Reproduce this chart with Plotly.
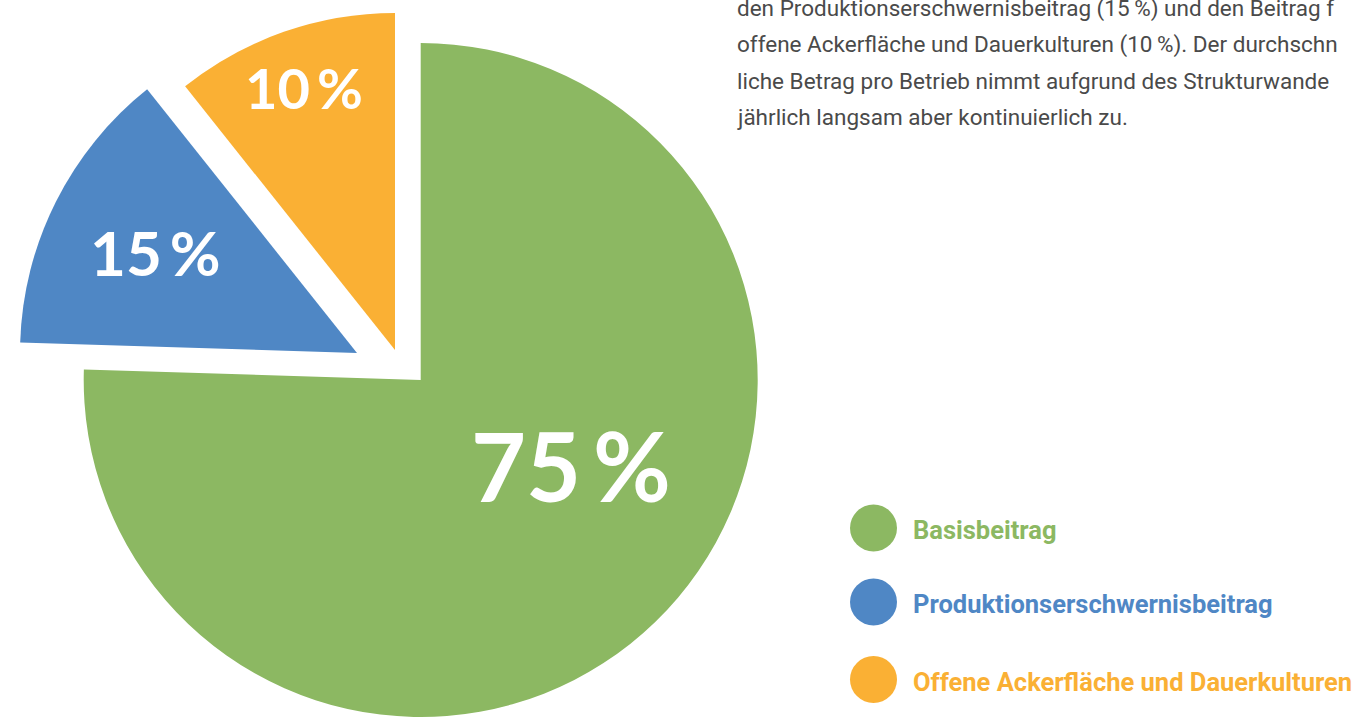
import plotly.graph_objects as go

categories = ["Basisbeitrag", "Produktionserschwernisbeitrag", "Offene Ackerfläche und Dauerkulturen"]
shares = [75.5, 13.8, 10.7]
share_labels = ["75\u2009%", "15\u2009%", "10\u2009%"]
colors = ["#8CB862", "#4F87C5", "#FAB034"]

# sichtbarer Teil des Fließtexts (rechts abgeschnitten wie im Original)
text_lines = [
    "den Produktionserschwernisbeitrag (15\u2009%) und den Beitrag f",
    "offene Ackerfläche und Dauerkulturen (10\u2009%). Der durchschn",
    "liche Betrag pro Betrieb nimmt aufgrund des Strukturwande",
    "jährlich langsam aber kontinuierlich zu.",
]

W, H = 1365, 717
R = 337                      # Kreisradius in Pixel
# Mittelpunkte der (herausgezogenen) Segmente in Pixel
centers = [(420.7, 380), (357, 353), (395, 350)]
# Lage und Größe der Prozent-Labels
label_pos = [(570.5, 464.5), (154.5, 252), (304, 88)]
label_sizes = [95, 62, 56]

_TRANSPARENT = "rgba(0,0,0,0)"
_LABEL_FONT = "Lato, 'Open Sans', sans-serif"
_TEXT_FONT = "Roboto, 'Liberation Sans', sans-serif"


def _domain(cx, cy):
    return dict(
        x=[(cx - R) / W, (cx + R) / W],
        y=[max(0.0, 1 - (cy + R) / H), min(1.0, 1 - (cy - R) / H)],
    )


fig = go.Figure()

# Ein Pie pro Segment – nur das jeweilige Segment ist sichtbar, so lässt sich
# jedes Stück frei verschieben (wie in der Vorlage)
for i, (cx, cy) in enumerate(centers):
    seg_colors = [c if j == i else _TRANSPARENT for j, c in enumerate(colors)]
    fig.add_trace(go.Pie(
        labels=categories,
        values=shares,
        sort=False,
        direction="clockwise",
        rotation=0,
        domain=_domain(cx, cy),
        marker=dict(colors=seg_colors, line=dict(width=0)),
        textinfo="none",
        hoverinfo="skip",
        showlegend=False,
    ))

# Legende: Kreise + farbiger Text
leg_x = 873.5 / W
leg_y = [1 - 528 / H, 1 - 602 / H, 1 - 679.5 / H]
fig.add_trace(go.Scatter(
    x=[leg_x] * len(categories), y=leg_y,
    mode="markers",
    marker=dict(size=47, color=colors, line=dict(width=0)),
    hoverinfo="skip", showlegend=False,
))

annotations = []
for cat, col, y in zip(categories, colors, leg_y):
    annotations.append(dict(
        x=911 / W, y=y - 2 / H, xref="paper", yref="paper",
        xanchor="left", yanchor="middle", showarrow=False,
        text=f"<b>{cat}</b>",
        font=dict(family=_TEXT_FONT, size=25.5, color=col),
    ))

# Prozent-Labels in den Segmenten
for lab, (lx, ly), size in zip(share_labels, label_pos, label_sizes):
    annotations.append(dict(
        x=lx / W, y=1 - ly / H, xref="paper", yref="paper",
        xanchor="center", yanchor="middle", showarrow=False,
        text=f"<b>{lab}</b>",
        font=dict(family=_LABEL_FONT, size=size, color="white"),
    ))

# Fließtext oben rechts
for k, line in enumerate(text_lines):
    annotations.append(dict(
        x=735 / W, y=1 - (8 + 36.5 * k) / H, xref="paper", yref="paper",
        xanchor="left", yanchor="middle", showarrow=False,
        text=line,
        font=dict(family=_TEXT_FONT, size=22.5, color="#4A4A4A"),
    ))

fig.update_layout(
    width=W, height=H,
    margin=dict(l=0, r=0, t=0, b=0),
    paper_bgcolor="white",
    plot_bgcolor="rgba(0,0,0,0)",
    xaxis=dict(range=[0, 1], domain=[0, 1], visible=False, fixedrange=True),
    yaxis=dict(range=[0, 1], domain=[0, 1], visible=False, fixedrange=True),
    annotations=annotations,
    showlegend=False,
)

fig.write_html(
    "out.html",
    config={"displayModeBar": False},
    post_script="document.body.style.margin='0';",
)
